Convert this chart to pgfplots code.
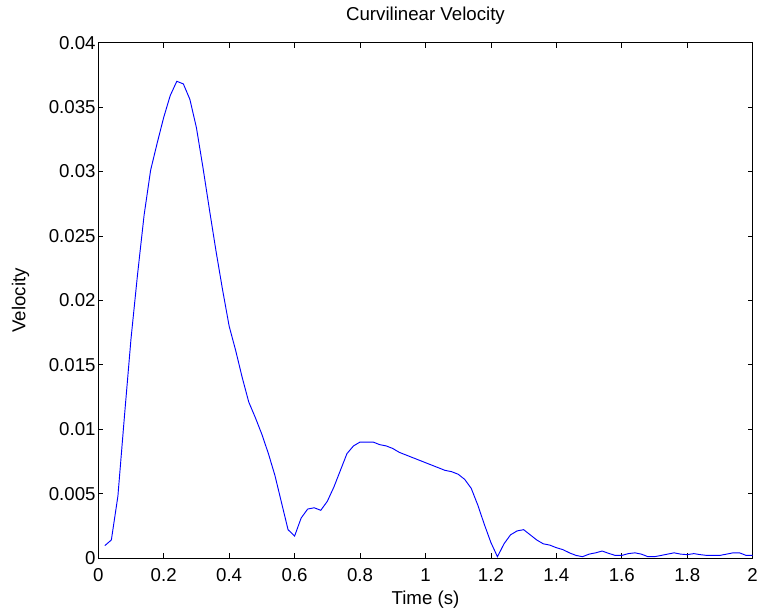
\documentclass[border=0pt]{standalone}
\usepackage{fontspec}
\setmainfont{Liberation Sans}
\usepackage{pgfplots}
\pgfplotsset{compat=1.18}

\pgfplotstableread{
t v
0.02 0.00096
0.04 0.0014
0.06 0.0048
0.08 0.0110
0.10 0.0170
0.12 0.0220
0.14 0.0266
0.16 0.0301
0.18 0.0322
0.20 0.0342
0.22 0.0359
0.24 0.0370
0.26 0.0368
0.28 0.0356
0.30 0.0334
0.32 0.0303
0.34 0.0270
0.36 0.0238
0.38 0.0208
0.40 0.0180
0.42 0.0161
0.44 0.0140
0.46 0.0121
0.48 0.0109
0.50 0.0096
0.52 0.0081
0.54 0.0064
0.56 0.0043
0.58 0.0022
0.60 0.0017
0.62 0.0031
0.64 0.0038
0.66 0.0039
0.68 0.0037
0.70 0.0044
0.72 0.0055
0.74 0.0068
0.76 0.0081
0.78 0.0087
0.80 0.0090
0.82 0.0090
0.84 0.0090
0.86 0.0088
0.88 0.0087
0.90 0.0085
0.92 0.0082
0.94 0.0080
0.96 0.0078
0.98 0.0076
1.00 0.0074
1.02 0.0072
1.04 0.0070
1.06 0.0068
1.08 0.0067
1.10 0.0065
1.12 0.0061
1.14 0.0054
1.16 0.0041
1.18 0.0026
1.20 0.0012
1.22 0.0001
1.24 0.0011
1.26 0.0018
1.28 0.0021
1.30 0.0022
1.32 0.0018
1.34 0.0014
1.36 0.0011
1.38 0.0010
1.40 0.0008
1.42 0.00065
1.44 0.0004
1.46 0.0002
1.48 0.0001
1.50 0.0003
1.52 0.0004
1.54 0.00054
1.56 0.00036
1.58 0.0002
1.60 0.0002
1.62 0.00034
1.64 0.0004
1.66 0.0003
1.68 0.0001
1.70 0.0001
1.72 0.0002
1.74 0.0003
1.76 0.0004
1.78 0.0003
1.80 0.00026
1.82 0.00034
1.84 0.00026
1.86 0.0002
1.88 0.0002
1.90 0.0002
1.92 0.0003
1.94 0.0004
1.96 0.0004
1.98 0.0002
2.00 0.0002
}\velocity

\begin{document}
\begin{tikzpicture}
% page frame, 760 x 614 px at 0.75pt per px
\path[use as bounding box] (0,0) rectangle (570pt,460.5pt);
\begin{axis}[
  at={(73.7pt,42pt)}, anchor=south west,
  width=490.8pt, height=386.5pt, scale only axis,
  xmin=0, xmax=2, ymin=0, ymax=0.04,
  xtick={0,0.2,...,2.01}, ytick={0,0.005,...,0.0401},
  scaled y ticks=false, scaled x ticks=false,
  xticklabel style={/pgf/number format/fixed, yshift=-4.5pt},
  yticklabel style={/pgf/number format/fixed, /pgf/number format/precision=3, xshift=1.5pt},
  /pgf/number format/assume math mode=true,
  tick align=inside, major tick length=3.75pt,
  tick style={black, line width=0.5pt},
  axis line style={line width=0.5pt},
  font=\fontsize{14}{16}\selectfont,
  title={Curvilinear Velocity},
  title style={at={(axis description cs:0.5,1.036)}, anchor=center, yshift=0pt},
  xlabel={Time (s)},
  xlabel style={at={(axis description cs:0.5,-0.0815)}, anchor=center},
  ylabel={Velocity},
  ylabel style={at={(axis description cs:-0.1186,0.5)}, anchor=center, rotate=0},
]
  \addplot[blue, line width=0.7pt] table[x=t, y=v] {\velocity};
\end{axis}
\end{tikzpicture}
\end{document}
